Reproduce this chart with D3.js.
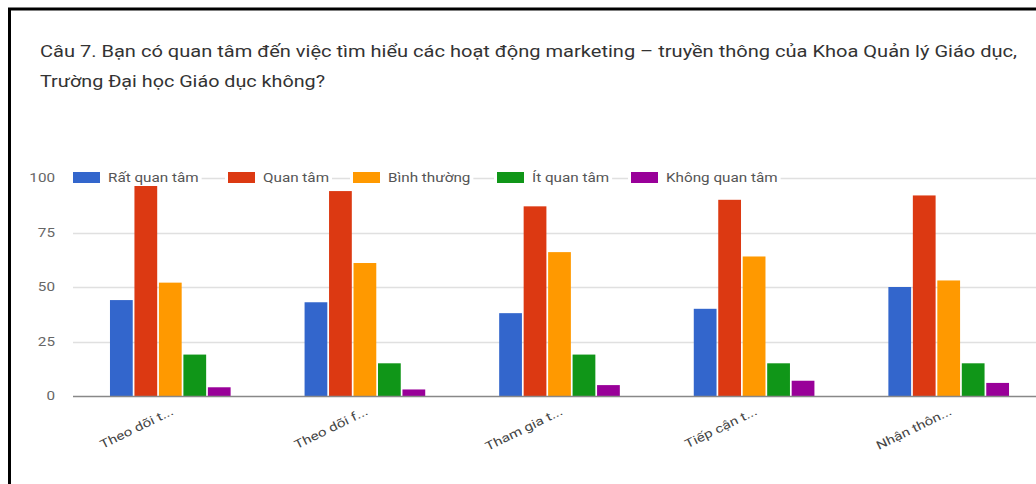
<!DOCTYPE html>
<html>
<head>
<meta charset="utf-8">
<script src="https://cdn.jsdelivr.net/npm/d3@7"></script>
<style>
  body { margin: 0; background: #fff; }
  text { font-family: Roboto, Arial, sans-serif; }
</style>
</head>
<body>
<svg id="chart"></svg>
<script>
// Categories (truncated x labels as shown)
const categories = ["Theo dõi t...", "Theo dõi f...", "Tham gia t...", "Tiếp cận t...", "Nhận thôn..."];

// Series names and colours
const seriesNames = ["Rất quan tâm", "Quan tâm", "Bình thường", "Ít quan tâm", "Không quan tâm"];
const seriesColors = ["#3366cc", "#dc3912", "#ff9900", "#109618", "#990099"];

// Values, one array per series
const ratQuanTam = [44, 43, 38, 40, 50];
const quanTam = [97, 94, 87, 90, 92];
const binhThuong = [52, 61, 66, 64, 53];
const itQuanTam = [19, 15, 19, 15, 15];
const khongQuanTam = [4, 3, 5, 7, 6];

const yTicks = [0, 25, 50, 75, 100];

const titleLines = [
    "Câu 7. Bạn có quan tâm đến việc tìm hiểu các hoạt động marketing – truyền thông của Khoa Quản lý Giáo dục,",
    "Trường Đại học Giáo dục không?"
];

const seriesValues = [ratQuanTam, quanTam, binhThuong, itQuanTam, khongQuanTam];

const width = 1036, height = 484;
const margin = {top: 178, left: 73, bottom: 396, right: 1046};
// the picture is stretched sideways, so text is widened to match
const stretchK = 1.27;

function stretch(sel, k) {
    sel.each(function() {
        const len = this.getComputedTextLength();
        d3.select(this)
            .attr("textLength", len * k)
            .attr("lengthAdjust", "spacingAndGlyphs");
    });
}

const svg = d3.select("#chart")
    .attr("width", width)
    .attr("height", height);

svg.append("rect")
    .attr("width", width)
    .attr("height", height)
    .attr("fill", "#fff");

// black frame (cropped at right and bottom)
svg.append("path")
    .attr("d", `M9.5,${height + 5} V9 H${width + 5}`)
    .attr("fill", "none")
    .attr("stroke", "#000")
    .attr("stroke-width", 3);

// Title
svg.append("g")
    .selectAll("text")
    .data(titleLines)
    .join("text")
    .attr("x", 40)
    .attr("y", (d, i) => 57 + i * 30)
    .attr("font-size", 16)
    .attr("fill", "#333")
    .attr("textLength", (d, i) => i === 0 ? 977 : 285)
    .attr("lengthAdjust", "spacingAndGlyphs")
    .text(d => d);

// Scales
const x0 = d3.scaleBand()
    .domain(categories)
    .range([margin.left, margin.right])
    .paddingInner(0.38)
    .paddingOuter(0.19);

const x1 = d3.scaleBand()
    .domain(seriesNames)
    .range([0, x0.bandwidth()])
    .paddingInner(0.07);

const y = d3.scaleLinear()
    .domain([0, 100])
    .range([margin.bottom, margin.top]);

// Gridlines
svg.append("g")
    .selectAll("line")
    .data(yTicks.filter(d => d > 0))
    .join("line")
    .attr("x1", margin.left)
    .attr("x2", width)
    .attr("y1", d => Math.round(y(d)) + 0.5)
    .attr("y2", d => Math.round(y(d)) + 0.5)
    .attr("stroke", "#e0e0e0")
    .attr("stroke-width", 1.5);

// Y axis labels
const yAxis = svg.append("g")
    .attr("transform", `translate(${margin.left - 18},0)`)
    .call(d3.axisLeft(y).tickValues(yTicks).tickSize(0).tickPadding(0));
yAxis.select(".domain").remove();
yAxis.selectAll("text")
    .attr("font-family", "Roboto, Arial, sans-serif")
    .attr("font-size", 12)
    .attr("fill", "#666")
    .call(stretch, stretchK);

// Bars
const groups = svg.append("g")
    .selectAll("g")
    .data(categories)
    .join("g")
    .attr("transform", d => `translate(${x0(d)},0)`);

groups.selectAll("rect")
    .data((d, ci) => seriesNames.map((s, si) => ({series: s, value: seriesValues[si][ci], color: seriesColors[si]})))
    .join("rect")
    .attr("x", d => x1(d.series))
    .attr("y", d => y(d.value))
    .attr("width", x1.bandwidth())
    .attr("height", d => y(0) - y(d.value))
    .attr("fill", d => d.color);

// Baseline
svg.append("line")
    .attr("x1", margin.left)
    .attr("x2", width)
    .attr("y1", y(0) + 0.5)
    .attr("y2", y(0) + 0.5)
    .attr("stroke", "#888")
    .attr("stroke-width", 1.5);

// X labels (slanted)
const xAxis = svg.append("g")
    .attr("transform", `translate(0,${y(0)})`)
    .call(d3.axisBottom(x0).tickSize(0).tickPadding(0));
xAxis.select(".domain").remove();
xAxis.selectAll("text")
    .attr("font-family", "Roboto, Arial, sans-serif")
    .attr("font-size", 12)
    .attr("fill", "#444")
    .attr("text-anchor", "end")
    .attr("dy", 0)
    .attr("transform", "translate(4,18) rotate(-26)")
    .call(stretch, stretchK);

// Legend
const legendX = [73, 228, 353, 497, 631];
const legend = svg.append("g")
    .selectAll("g")
    .data(seriesNames)
    .join("g")
    .attr("transform", (d, i) => `translate(${legendX[i]},172)`);

legend.append("rect")
    .attr("class", "bg")
    .attr("x", -3)
    .attr("y", -3)
    .attr("height", 17)
    .attr("fill", "#fff");

legend.append("rect")
    .attr("width", 27)
    .attr("height", 11)
    .attr("fill", (d, i) => seriesColors[i]);

legend.append("text")
    .attr("x", 35)
    .attr("y", 10)
    .attr("font-size", 12)
    .attr("fill", "#555")
    .text(d => d)
    .call(stretch, stretchK);

legend.each(function() {
    const g = d3.select(this);
    const w = +g.select("text").attr("textLength");
    g.select(".bg").attr("width", 35 + w + 6);
});
</script>
</body>
</html>
